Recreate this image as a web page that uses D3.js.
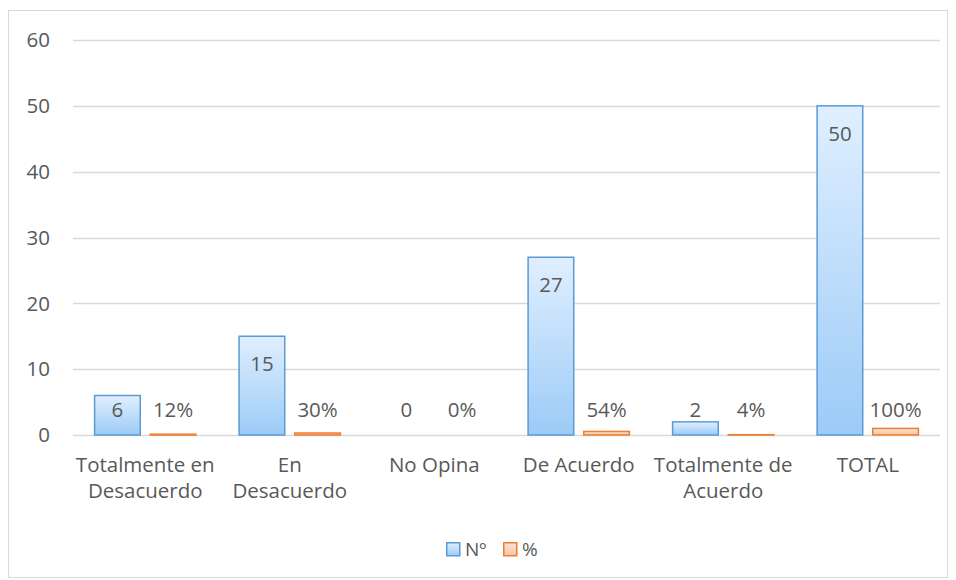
<!DOCTYPE html>
<html>
<head>
<meta charset="utf-8">
<script src="https://cdn.jsdelivr.net/npm/d3@7"></script>
<style>
  body { margin: 0; background: #fff; }
  svg text { font-family: "Open Sans", sans-serif; fill: #595959; }
</style>
</head>
<body>
<svg id="chart" width="956" height="580"></svg>
<script>
// data (line breaks as in the original axis labels)
const categories = ["Totalmente en\nDesacuerdo", "En\nDesacuerdo", "No Opina", "De Acuerdo", "Totalmente de\nAcuerdo", "TOTAL"];
const counts = [6, 15, 0, 27, 2, 50];
const percents = [0.12, 0.30, 0, 0.54, 0.04, 1.00];
const seriesNames = ["Nº", "%"];
const yTicks = [0, 10, 20, 30, 40, 50, 60];

(function(){
  const svg = d3.select("#chart");
  const fontSize = "20.5px";

  // chart frame
  svg.append("rect")
    .attr("x", 8.5).attr("y", 10.5)
    .attr("width", 939).attr("height", 567)
    .attr("fill", "#fff")
    .attr("stroke", "#d9d9d9");

  const defs = svg.append("defs");
  const gb = defs.append("linearGradient").attr("id","gBlue").attr("x1",0).attr("y1",0).attr("x2",0).attr("y2",1);
  gb.append("stop").attr("offset","0%").attr("stop-color","#e0efff");
  gb.append("stop").attr("offset","100%").attr("stop-color","#9ccbf7");
  const go = defs.append("linearGradient").attr("id","gOrange").attr("x1",0).attr("y1",0).attr("x2",0).attr("y2",1);
  go.append("stop").attr("offset","0%").attr("stop-color","#fde3d3");
  go.append("stop").attr("offset","100%").attr("stop-color","#f8c3a2");

  const left = 73, right = 940, top = 40, bottom = 435;

  let x0 = d3.scaleBand().domain(categories).range([left, right]);
  let x1 = d3.scaleBand().domain(seriesNames)
    .range([21.6, x0.bandwidth() - 21.6]).paddingInner(0.18);
  let y = d3.scaleLinear().domain([0, 60]).range([bottom, top]);

  // gridlines
  svg.append("g")
    .selectAll("line")
    .data(yTicks)
    .enter()
    .append("line")
    .attr("x1", left).attr("x2", right)
    .attr("y1", d => Math.round(y(d)) + 0.5)
    .attr("y2", d => Math.round(y(d)) + 0.5)
    .attr("stroke", "#d9d9d9")
    .attr("stroke-width", 1.3);

  // y tick labels
  svg.append("g")
    .selectAll("text")
    .data(yTicks)
    .enter()
    .append("text")
    .attr("x", 50)
    .attr("y", d => y(d))
    .attr("dy", "0.35em")
    .attr("text-anchor", "end")
    .style("font-size", fontSize)
    .text(d => d);

  const rows = categories.map((c, i) => ({cat: c, vals: [
    {key: "Nº", v: counts[i], label: String(counts[i])},
    {key: "%", v: percents[i], label: Math.round(percents[i] * 100) + "%"}
  ]}));

  const groups = svg.append("g")
    .selectAll("g")
    .data(rows)
    .enter()
    .append("g")
    .attr("transform", d => `translate(${x0(d.cat)},0)`);

  groups.selectAll("rect")
    .data(d => d.vals.filter(v => v.v > 0))
    .enter()
    .append("rect")
    .attr("x", d => x1(d.key))
    .attr("y", d => y(d.v))
    .attr("width", x1.bandwidth())
    .attr("height", d => Math.max(0, y(0) - y(d.v)))
    .attr("fill", d => d.key === "Nº" ? "url(#gBlue)" : "url(#gOrange)")
    .attr("stroke", d => d.key === "Nº" ? "#5b9bd5" : "#ed7d31")
    .attr("stroke-width", 1.5);

  // data labels: inside end when the bar is tall enough, else above
  groups.selectAll("text")
    .data(d => d.vals)
    .enter()
    .append("text")
    .attr("x", d => x1(d.key) + x1.bandwidth() / 2)
    .attr("y", d => Math.min(y(d.v) + 28, y(0) - 25))
    .attr("dy", "0.35em")
    .attr("text-anchor", "middle")
    .style("font-size", fontSize)
    .text(d => d.label);

  // category labels
  categories.forEach(c => {
    const cx = x0(c) + x0.bandwidth() / 2;
    const t = svg.append("text")
      .attr("x", cx)
      .attr("y", 465)
      .attr("text-anchor", "middle")
      .style("font-size", fontSize);
    c.split("\n").forEach((l, i) => {
      t.append("tspan")
        .attr("x", cx)
        .attr("dy", i === 0 ? "0.35em" : "26px")
        .text(l);
    });
  });

  // legend
  const legend = svg.append("g").attr("transform", "translate(446,542)");
  const items = [
    {name: "Nº", fill: "url(#gBlue)", stroke: "#5b9bd5", dx: 0},
    {name: "%", fill: "url(#gOrange)", stroke: "#ed7d31", dx: 57}
  ];
  items.forEach(it => {
    legend.append("rect")
      .attr("x", it.dx + 0.75).attr("y", 0.75)
      .attr("width", 13).attr("height", 13)
      .attr("fill", it.fill)
      .attr("stroke", it.stroke)
      .attr("stroke-width", 1.5);
    legend.append("text")
      .attr("x", it.dx + 19).attr("y", 7)
      .attr("dy", "0.35em")
      .style("font-size", "19px")
      .text(it.name);
  });
})();
</script>
</body>
</html>
